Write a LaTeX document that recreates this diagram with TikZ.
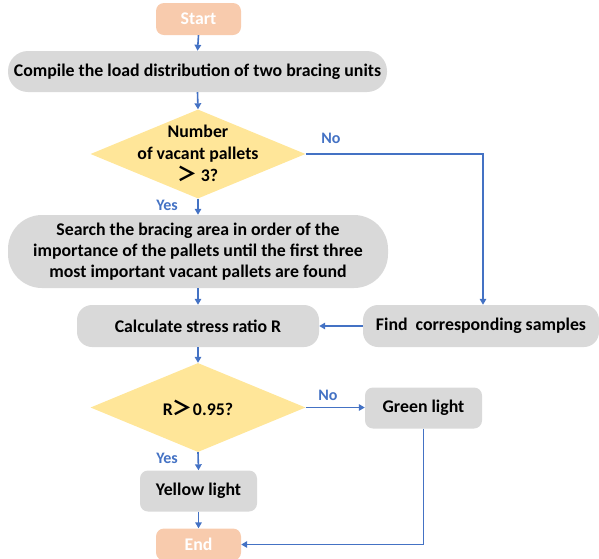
\documentclass[tikz,border=0pt]{standalone}
\usepackage{fontspec}
\setmainfont{Carlito}
\newfontfamily\cjk{Noto Sans CJK SC}
\usetikzlibrary{shapes.geometric,arrows.meta}
\definecolor{peach}{HTML}{F8CBAD}
\definecolor{boxgray}{HTML}{D9D9D9}
\definecolor{diayel}{HTML}{FFE699}
\definecolor{lineblue}{HTML}{4472C4}
\tikzset{
  base/.style={inner sep=0pt, font=\bfseries\fontsize{17.8}{21}\selectfont, align=center},
  term/.style={base, fill=peach, text=white, rounded corners=8pt, minimum width=85pt, minimum height=32pt},
  proc/.style={base, fill=boxgray, text=black},
  dia/.style={diamond, fill=diayel, inner sep=0pt, minimum width=215pt, minimum height=89pt},
  lbl/.style={font=\bfseries\fontsize{16}{18}\selectfont, text=lineblue, inner sep=0pt},
  conn/.style={draw=lineblue, line width=1.6pt, -{Triangle[length=6pt,width=6.5pt]}}
}
\begin{document}
\begin{tikzpicture}[x=1pt,y=-1pt]
\useasboundingbox (0,0) rectangle (599,558);
\begin{scope}
\clip (0,0) rectangle (599,558);
\node[term] (start) at (198.5,19) {Start};
\node[proc, rounded corners=20pt, minimum width=379pt, minimum height=41pt] (compile) at (197.5,71.5) {Compile the load distribution of two bracing units};
\node[dia] (d1) at (198,154) {};
\node[base, font=\bfseries\fontsize{17.8}{22}\selectfont] (d1t) at (198,153) {Number\\of vacant pallets\\{\cjk\fontsize{20}{22}\selectfont ＞}\,3?};
\node[proc, rounded corners=34pt, minimum width=380pt, minimum height=73pt] (search) at (198,251.5) {Search the bracing area in order of the\\importance of the pallets until the first three\\most important vacant pallets are found};
\node[proc, rounded corners=15pt, minimum width=242pt, minimum height=42pt] (calc) at (198,326) {Calculate stress ratio R};
\node[proc, rounded corners=15pt, minimum width=236pt, minimum height=42pt] (find) at (481,326) {Find\ \ corresponding samples};
\node[dia] (d2) at (198,407.5) {};
\node[base] (d2t) at (198,407.5) {R{\cjk\fontsize{20}{22}\selectfont ＞}0.95?};
\node[proc, rounded corners=8pt, minimum width=117pt, minimum height=41pt] (green) at (423.5,408) {Green light};
\node[proc, rounded corners=8pt, minimum width=117pt, minimum height=41pt] (yellow) at (198.5,491) {Yellow light};
\node[term, minimum height=32pt] (end) at (198.5,544.5) {End};
\end{scope}
\node[lbl] (no1) at (331,138) {No};
\node[lbl] (yes1) at (167,205) {Yes};
\node[lbl] (no2) at (328,395) {No};
\node[lbl] (yes2) at (167,458) {Yes};
\coordinate (k1) at (483,154);
\draw[conn] (start.south) -- (compile.north);
\draw[conn] (compile.south) -- (d1.north);
\draw[conn] (d1.south) -- (search.north);
\draw[conn] (search.south) -- (calc.north);
\draw[conn] (calc.south) -- (d2.north);
\draw[conn] (d2.south) -- (yellow.north);
\draw[conn] (yellow.south) -- (end.north);
\draw[conn] (d1.east) -- (k1) -- (k1 |- find.north);
\draw[conn] (find.west) -- (calc.east);
\draw[conn] (d2.east) -- (d2.east -| green.west);
\draw[conn] (green.south) |- (end.east);
\end{tikzpicture}
\end{document}
